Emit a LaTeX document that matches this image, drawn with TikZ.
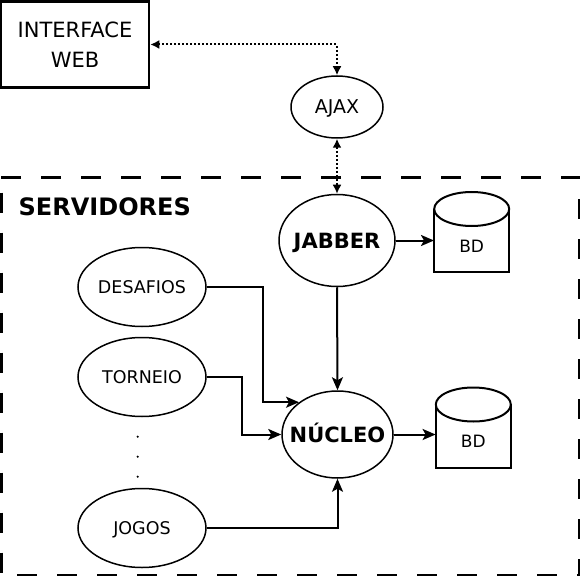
\documentclass[tikz,border=0pt]{standalone}
\usepackage{fontspec}
\setmainfont{DejaVu Sans}
\usetikzlibrary{arrows.meta,shapes.geometric}
\newcommand\dbshape[1]{%
  \draw[dbline] ([shift={(-37.5,-37)}]#1.center) -- ([shift={(-37.5,26)}]#1.center)
    -- ([shift={(37.5,26)}]#1.center) -- ([shift={(37.5,-37)}]#1.center);
  \draw[dbline] ([shift={(0,-37)}]#1.center) ellipse [x radius=37.5, y radius=17];
}
\tikzset{
  ell/.style={ellipse, draw, line width=1.5pt, inner xsep=-30pt, inner ysep=-3pt, text depth=0pt},
  small/.style={ell, minimum width=128pt, minimum height=79pt, text height=12.8pt, font=\fontsize{17.5}{20}\selectfont},
  big/.style={ell, text height=15.3pt, font=\fontsize{21}{24}\selectfont\bfseries},
  dbnode/.style={inner sep=0pt, minimum width=75pt, text height=12.4pt, text depth=0pt, font=\fontsize{17}{19}\selectfont},
  dbline/.style={line width=2pt},
  conn/.style={line width=2pt, -{Stealth[length=13pt,width=11pt,inset=3pt]}},
  dotconn/.style={line width=2pt, dash pattern=on 2pt off 2pt, {Latex[length=9pt,width=9pt]}-{Latex[length=9pt,width=9pt]}},
  frame/.style={line width=2.5pt, dash pattern=on 20pt off 20pt},
}
\begin{document}
\begin{tikzpicture}[x=1pt,y=-1pt]
\useasboundingbox (0,0) rectangle (580,577);
\fill[white] (0,0) rectangle (580,577);

% dashed frame
\draw[frame] (1,177.7) -- (580,177.7);
\draw[frame, dash phase=25pt] (1.3,177.7) -- (1.3,575);
\draw[frame, dash phase=24pt] (1,575) -- (580,575);
\draw[frame, dash phase=19pt] (579.6,177.7) -- (579.6,575);

\node[draw, line width=2.5pt, minimum width=148pt, minimum height=86pt, align=center, inner sep=0pt,
      font=\fontsize{21}{29.5}\selectfont] (web) at (75,44.5) {INTERFACE\\WEB};

\node[ell, minimum width=92pt, minimum height=62pt, text height=13.9pt, font=\fontsize{19}{21}\selectfont] (ajax) at (337,107) {AJAX};

\node[anchor=base west, inner sep=0pt, font=\fontsize{24}{26}\selectfont\bfseries] (serv) at (18.5,215.5) {SERVIDORES};

\node[big, minimum width=116pt, minimum height=92pt] (jab) at (337,240.5) {JABBER};
\node[big, minimum width=111pt, minimum height=87pt] (nuc) at (337.5,434.5) {NÚCLEO};

\node[small] (des) at (142,287) {DESAFIOS};
\node[small] (tor) at (142,377) {TORNEIO};
\node[small] (jog) at (142,528) {JOGOS};

\node[dbnode] (bd1) at (471.7,246) {BD};
\dbshape{bd1}
\node[dbnode] (bd2) at (473.3,441.5) {BD};
\dbshape{bd2}

% dots
\foreach \yy in {436.7,456.7,476.7} \fill (137.7,\yy) circle [radius=1.2];

% connectors
\draw[dotconn] (web.east) -| (ajax.north);
\draw[dotconn] (ajax.south) -- (jab.north);
\draw[conn] (jab.east) -- (jab.east -| bd1.west);
\draw[conn] (jab.south) -- (nuc.north);
\draw[conn] (des.east) -| ([xshift=-36.5pt]nuc.140.6) -- (nuc.140.6);
\draw[conn] (tor.east) -| ([xshift=-39.3pt]nuc.west) -- (nuc.west);
\draw[conn] (jog.east) -| (nuc.south);
\draw[conn] (nuc.east) -- (nuc.east -| bd2.west);
\end{tikzpicture}
\end{document}
